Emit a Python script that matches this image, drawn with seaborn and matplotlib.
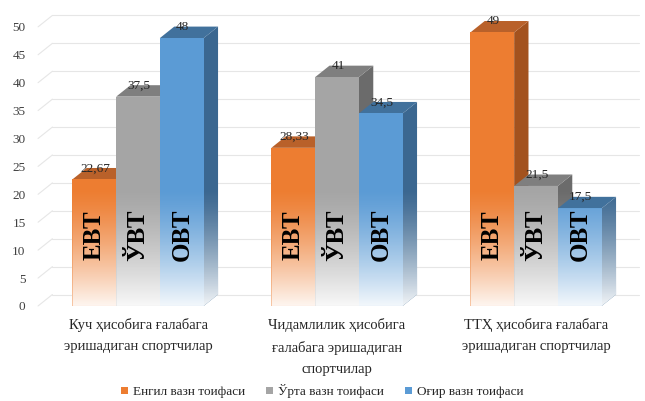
import numpy as np
import pandas as pd
import matplotlib as mpl
mpl.use('Agg')
import matplotlib.pyplot as plt
import seaborn as sns
from matplotlib.patches import Polygon, Patch

groups = ['Куч ҳисобига ғалабага\nэришадиган спортчилар',
          'Чидамлилик ҳисобига\nғалабага эришадиган\nспортчилар',
          'ТТҲ ҳисобига ғалабага\nэришадиган спортчилар']
series = ['Енгил вазн тоифаси', 'Ўрта вазн тоифаси', 'Оғир вазн тоифаси']
short = ['ЕВТ', 'ЎВТ', 'ОВТ']
light = [22.67, 28.33, 49]
middle = [37.5, 41, 21.5]
heavy = [48, 34.5, 17.5]
value_text = [['22,67', '28,33', '49'], ['37,5', '41', '21,5'], ['48', '34,5', '17,5']]
yticks = [0, 5, 10, 15, 20, 25, 30, 35, 40, 45, 50]

front = ['#ED7D31', '#A5A5A5', '#5B9BD5']
top = ['#B9612A', '#7F7F7F', '#41719C']
side = ['#A3521E', '#6B6B6B', '#3B6790']

df = pd.DataFrame({
  'group': groups * 3,
  'series': [s for s in series for _ in groups],
  'value': light + middle + heavy,
})

sns.set_theme(style='white')
plt.rcParams['font.family'] = ['Liberation Serif', 'DejaVu Serif']

fig = plt.figure(figsize=(6.45, 4.01), dpi=100)
ax = fig.add_axes([0.059, 0.237, 0.910, 0.696])
sns.barplot(data=df, x='group', y='value', hue='series', palette=front,
            width=0.66, ax=ax, legend=False, saturation=1, linewidth=0)

ax.set_xlim(-0.5025, 2.447)
ax.set_ylim(0, 50)
dx, dy = 0.072, 2.05

# back wall grid with perspective
for t in yticks:
  ax.plot([-0.5025, -0.5025 + dx], [t, t + dy], color='#E6E6E6', lw=0.8, zorder=0.5, clip_on=False)
  ax.plot([-0.5025 + dx, 2.447 + dx], [t + dy, t + dy], color='#E6E6E6', lw=0.8, zorder=0.5, clip_on=False)

# white fade towards the floor (row 0 = floor)
fade_top = 21
grad = np.ones((100, 2, 4))
a = (1 - np.linspace(0, 1, 100)) ** 1.3 * 0.93
grad[:, :, 3] = a[:, None]

for h, cont in enumerate(ax.containers):
  for g, p in enumerate(cont.patches):
    k = g * 3 + h
    z = 2 + k * 0.1
    x0 = p.get_x()
    w = p.get_width()
    v = p.get_height()
    p.set_zorder(z + 0.02)
    p.set_clip_on(False)
    sp = Polygon([[x0 + w, 0], [x0 + w + dx, dy], [x0 + w + dx, v + dy], [x0 + w, v]],
                 closed=True, fc=side[h], ec='none', zorder=z, clip_on=False)
    tp = Polygon([[x0, v], [x0 + dx, v + dy], [x0 + w + dx, v + dy], [x0 + w, v]],
                 closed=True, fc=top[h], ec='none', zorder=z, clip_on=False)
    ax.add_patch(sp)
    ax.add_patch(tp)
    clip = Polygon([[x0, 0], [x0 + w, 0], [x0 + w + dx, dy], [x0 + w + dx, v + dy],
                    [x0 + w, v], [x0, v]], closed=True, transform=ax.transData, fc='none', ec='none')
    im = ax.imshow(grad, extent=[x0, x0 + w + dx, 0, fade_top], aspect='auto',
                   zorder=z + 0.03, origin='lower')
    im.set_clip_path(clip)
    ax.text(x0 + w / 2, 12.7, short[h], rotation=90, ha='center', va='center',
            fontsize=18, fontweight='bold', color='black', zorder=10)
    ax.text(x0 + w / 2 + 0.005, v + dy * 0.45, value_text[h][g], ha='center', va='bottom',
            fontsize=9.5, color='#262626', zorder=10)

ax.set_aspect('auto')
ax.set_xlim(-0.5025, 2.447)
ax.set_ylim(0, 50)
ax.set_yticks(yticks)
ax.set_xlabel('')
ax.set_ylabel('')
ax.tick_params(axis='y', length=0, pad=9, labelsize=9.5, labelcolor='#404040')
ax.tick_params(axis='x', length=0, pad=9, labelsize=10.5, labelcolor='#262626')
for lab in ax.get_xticklabels():
  lab.set_linespacing(1.8)
  lab.set_va('top')
for s in ax.spines.values():
  s.set_visible(False)
ax.patch.set_alpha(0)

handles = [Patch(fc=c, ec='none') for c in front]
fig.legend(handles, series, loc='lower center', bbox_to_anchor=(0.5, -0.022), ncol=3,
           frameon=False, fontsize=9.5, handlelength=0.5, handleheight=0.5,
           handletextpad=0.4, columnspacing=1.6, labelcolor='#262626')

fig.savefig('out.png', dpi=100)
